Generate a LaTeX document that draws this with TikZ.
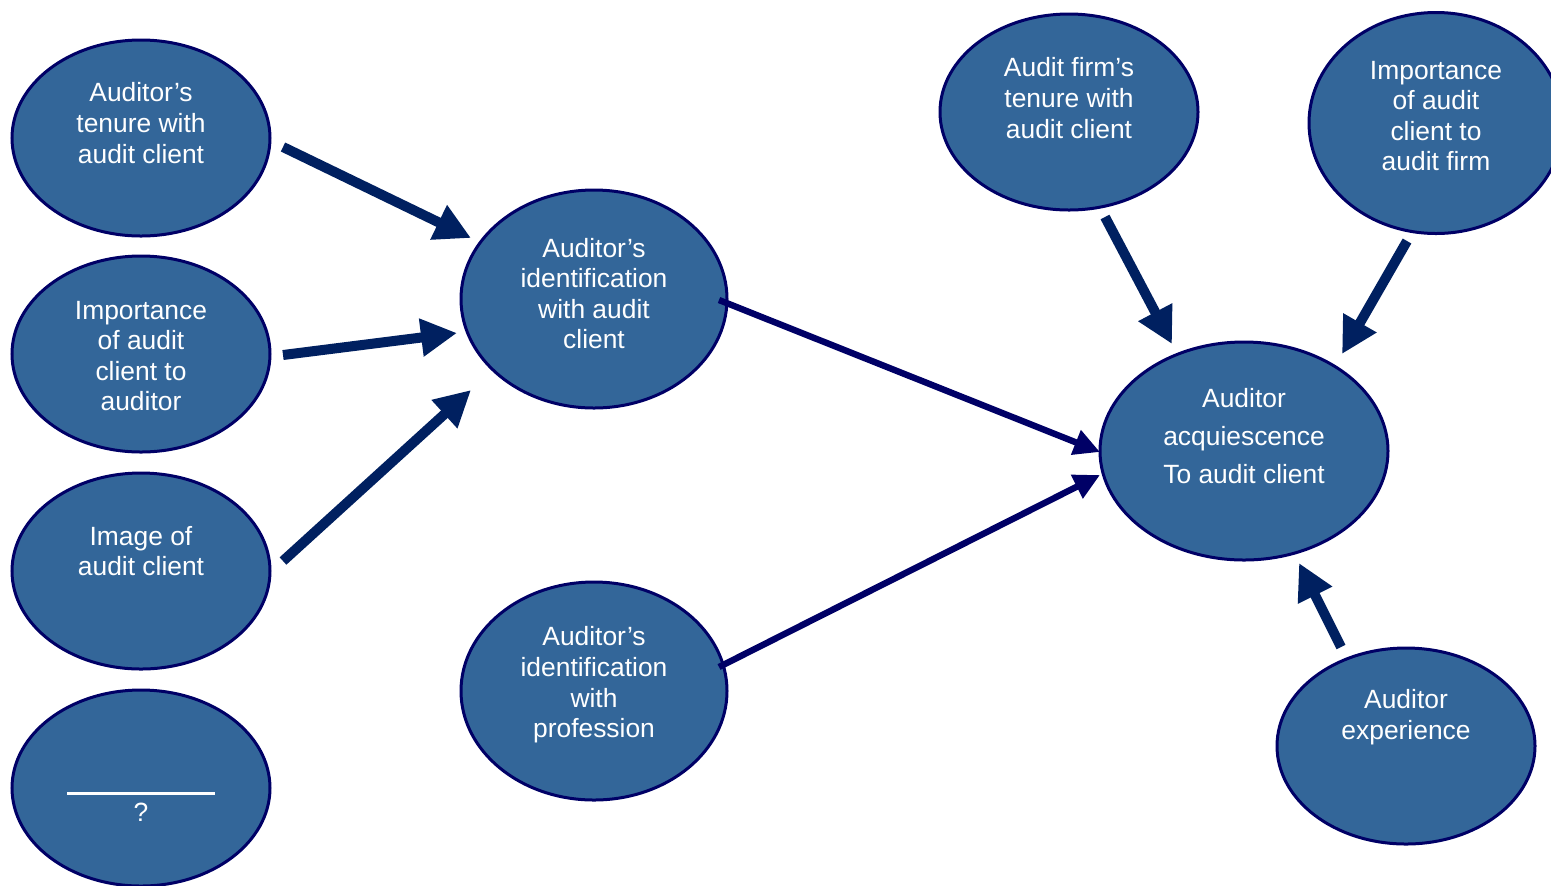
\documentclass[tikz,border=0pt]{standalone}
\usepackage{fontspec}
\setmainfont{Liberation Sans}
\usetikzlibrary{arrows.meta,shapes.geometric}
\definecolor{ellfill}{HTML}{336699}
\definecolor{ellline}{HTML}{000066}
\definecolor{arrthick}{HTML}{002060}
\definecolor{arrthin}{HTML}{000066}
\begin{document}
\begin{tikzpicture}[x=0.5pt,y=-0.5pt,
  blob/.style={ellipse, draw=ellline, line width=1.5pt, fill=ellfill, inner sep=0pt},
  smallblob/.style={blob, minimum width=129pt, minimum height=98pt},
  bigblob/.style={blob, minimum width=133pt, minimum height=109pt},
  acqblob/.style={blob, minimum width=144pt, minimum height=109pt},
  firmblob/.style={blob, minimum width=127pt, minimum height=110.5pt},
  lbl/.style={text=white, align=center, font=\fontsize{13.2}{15.3}\selectfont, inner sep=0pt},
  widelbl/.style={lbl, font=\fontsize{13.2}{19}\selectfont},
  thickarrow/.style={draw=arrthick, line width=5pt, -{Triangle[length=18pt,width=18pt]}},
  thinarrow/.style={draw=arrthin, line width=3.2pt, -{Triangle[length=13pt,width=12.5pt]}},
]
\useasboundingbox (0,0) rectangle (1551,885);
% ellipses
\node[smallblob] (n1) at (141,138) {};
\node[smallblob] (n2) at (141,354) {};
\node[smallblob] (n3) at (141,571) {};
\node[smallblob] (n4) at (141,788) {};
\node[bigblob] (n5) at (594,299) {};
\node[bigblob] (n6) at (594,691) {};
\node[smallblob] (n7) at (1069,112) {};
\node[firmblob] (n8) at (1436,123) {};
\node[acqblob] (n9) at (1244,451) {};
\node[smallblob] (n10) at (1406,746) {};
% labels
\node[lbl] (t1) at ([shift={(0,-15)}]n1.center) {Auditor’s\\tenure with\\audit client};
\node[lbl] (t2) at ([shift={(0,2)}]n2.center) {Importance\\of audit\\client to\\auditor};
\node[lbl] (t3) at ([shift={(0,-20)}]n3.center) {Image of\\audit client};
\draw[white, line width=1.5pt] ([shift={(-74,5)}]n4.center) coordinate (q1) -- ([shift={(74,5)}]n4.center) coordinate (q2);
\node[lbl] (t4) at ([shift={(0,24)}]n4.center) {?};
\node[lbl] (t5) at ([shift={(0,-5.5)}]n5.center) {Auditor’s\\identification\\with audit\\client};
\node[lbl] (t6) at ([shift={(0,-6)}]n6.center) {Auditor’s\\identification\\with\\profession};
\node[lbl] (t7) at ([shift={(0,-14)}]n7.center) {Audit firm’s\\tenure with\\audit client};
\node[lbl] (t8) at ([shift={(0,-7)}]n8.center) {Importance\\of audit\\client to\\audit firm};
\node[widelbl] (t9) at ([shift={(0,-15)}]n9.center) {Auditor\\acquiescence\\To audit client};
\node[lbl] (t10) at ([shift={(0,-29)}]n10.center) {Auditor\\experience};
% arrows
\draw[thickarrow] ([shift={(142,9)}]n1.center) -- ([shift={(-123,-61)}]n5.center);
\draw[thickarrow] ([shift={(142,1)}]n2.center) -- ([shift={(-137,34)}]n5.center);
\draw[thickarrow] ([shift={(142,-10)}]n3.center) -- ([shift={(-123,91)}]n5.center);
\draw[thinarrow] ([shift={(125,1)}]n5.center) -- ([shift={(-144,1)}]n9.center);
\draw[thinarrow] ([shift={(125,-24)}]n6.center) -- ([shift={(-144,24)}]n9.center);
\draw[thickarrow] ([shift={(36,105)}]n7.center) -- ([shift={(-72,-107)}]n9.center);
\draw[thickarrow] ([shift={(-29,118)}]n8.center) -- ([shift={(98,-97)}]n9.center);
\draw[thickarrow] ([shift={(-65,-99)}]n10.center) -- ([shift={(55,112)}]n9.center);
\end{tikzpicture}
\end{document}
